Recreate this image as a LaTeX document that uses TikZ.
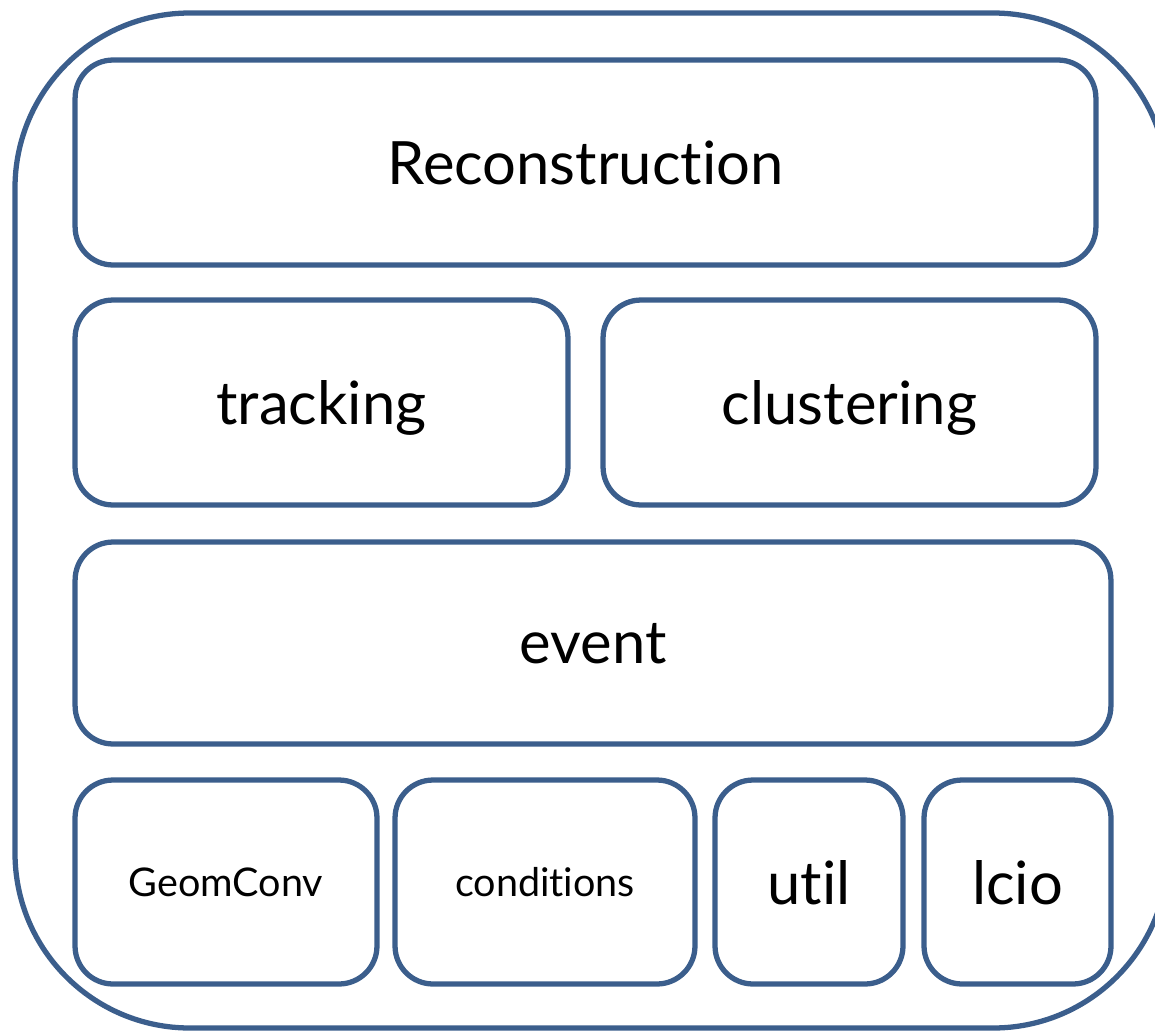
\documentclass[tikz,border=0pt]{standalone}
\usepackage{fontspec}
\setmainfont{Lato}[Ligatures={NoCommon,NoRequired,NoContextual}]
\usepackage{tikz}
\definecolor{pkgblue}{HTML}{3B5E8C}
\newcommand{\bigpkg}{\fontsize{34}{36}\selectfont}
\newcommand{\smallpkg}{\fontsize{22.5}{24}\selectfont}

\begin{document}
\begin{tikzpicture}[x=0.02cm,y=-0.02cm,
    pkgbox/.style={draw=pkgblue,line width=3pt,rounded corners=0.76cm,
      inner sep=0pt,outer sep=0pt,minimum height=4.1cm,align=center,text depth=0pt}]
  \useasboundingbox (0,0) rectangle (1155,1034);
  \draw[pkgblue,line width=3pt,rounded corners=3.5cm] (15,13) rectangle (1168,1028);
  \node[pkgbox,minimum width=20.42cm,font=\bigpkg] (reco) at (585.5,162.5) {Reconstruction};
  \node[pkgbox,minimum width=9.86cm,font=\bigpkg] (tracking) at (321.5,402.5) {tracking};
  \node[pkgbox,minimum width=9.86cm,font=\bigpkg] (clustering) at (849.5,402.5) {clustering};
  \node[pkgbox,minimum width=20.72cm,minimum height=4.04cm,font=\bigpkg] (event) at (593,643) {event};
  \node[pkgbox,minimum width=6.04cm,minimum height=4.08cm,font=\smallpkg] (geomconv) at (226,882) {GeomConv};
  \node[pkgbox,minimum width=6.0cm,minimum height=4.08cm,font=\smallpkg] (conditions) at (545,882) {conditions};
  \node[pkgbox,minimum width=3.76cm,minimum height=4.08cm,font=\bigpkg] (util) at (809,882) {util};
  \node[pkgbox,minimum width=3.74cm,minimum height=4.08cm,font=\bigpkg] (lcio) at (1017.5,882) {lcio};
\end{tikzpicture}
\end{document}
